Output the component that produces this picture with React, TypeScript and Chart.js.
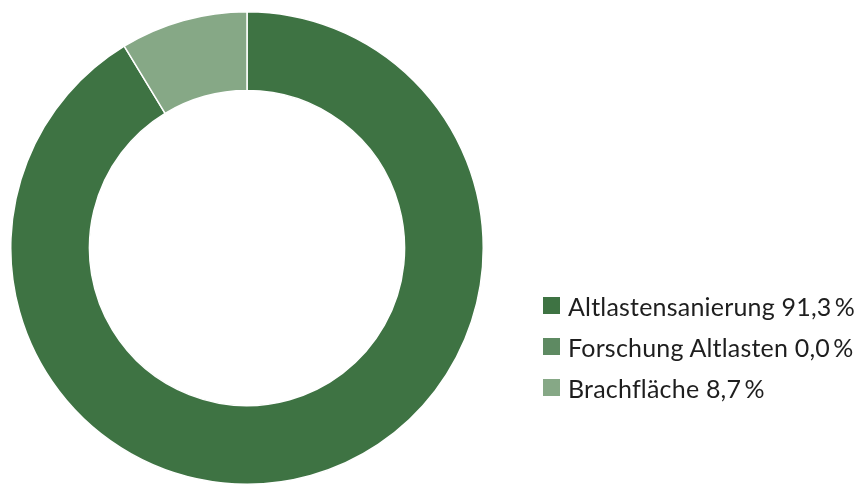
import React, { useEffect, useRef } from "react";
import { Chart, registerables } from "chart.js";

Chart.register(...registerables);

const categories = ["Altlastensanierung", "Forschung Altlasten", "Brachfläche"];
const shares = [91.3, 0.0, 8.7];
const shareLabels = ["91,3", "0,0", "8,7"];
const colors = ["#3e7343", "#5e8a62", "#86a886"];

export default function App() {
  const ref = useRef<HTMLCanvasElement | null>(null);

  useEffect(() => {
    if (!ref.current) return;
    const chart = new Chart(ref.current, {
      type: "doughnut",
      data: {
        labels: categories,
        datasets: [
          {
            data: shares,
            backgroundColor: colors,
            borderColor: "#ffffff",
            borderWidth: 1.5,
          },
        ],
      },
      options: {
        animation: false,
        responsive: true,
        maintainAspectRatio: false,
        cutout: "66.7%",
        layout: { padding: { top: 11, bottom: 2, left: 10, right: 379 } },
        plugins: { legend: { display: false }, tooltip: { enabled: false } },
      },
    });
    return () => chart.destroy();
  }, []);

  return (
    <div style={{ position: "absolute", left: 0, top: 0, width: 863, height: 487, background: "#fff" }}>
      <canvas ref={ref} />
      <div
        style={{
          position: "absolute",
          left: 543,
          top: 285,
          display: "flex",
          flexDirection: "column",
          fontFamily: "Lato, sans-serif",
          fontSize: 25,
          letterSpacing: 0.2,
          color: "#1e1e1e",
        }}
      >
        {categories.map((c, i) => (
          <div key={c} style={{ height: 41, display: "flex", alignItems: "center", whiteSpace: "nowrap" }}>
            <span style={{ width: 17, height: 17, background: colors[i], display: "inline-block", marginRight: 8, flexShrink: 0 }} />
            <span>{`${c} ${shareLabels[i]}\u2009%`}</span>
          </div>
        ))}
      </div>
    </div>
  );
}
